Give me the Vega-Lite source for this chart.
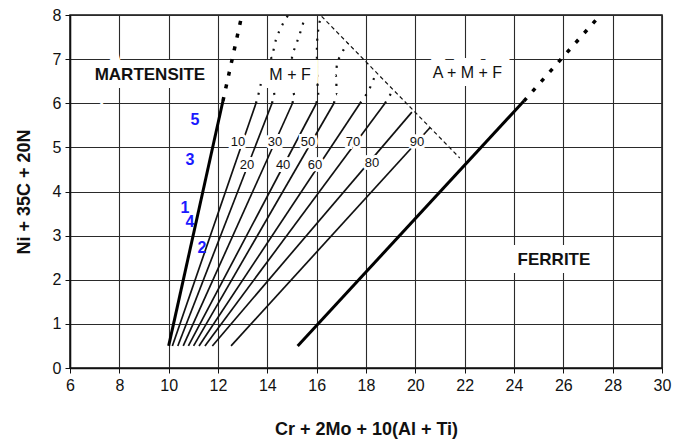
{
  "$schema": "https://vega.github.io/schema/vega-lite/v6.json",
  "width": 592,
  "height": 353,
  "autosize": {"type": "none"},
  "padding": {"left": 70, "top": 15, "right": 20, "bottom": 75},
  "background": "white",
  "config": {
    "view": {"stroke": "#111", "strokeWidth": 1.5},
    "axis": {
      "labelFont": "Liberation Sans",
      "labelFontSize": 16,
      "labelColor": "#111",
      "titleFont": "Liberation Sans",
      "titleFontSize": 18,
      "titleFontWeight": "bold",
      "titleColor": "#111",
      "domainColor": "#111",
      "domainWidth": 1.5,
      "tickColor": "#111",
      "tickSize": 5,
      "labelPadding": 4,
      "gridColor": "#2a2a2a",
      "gridWidth": 1.1,
      "gridOpacity": 1
    }
  },
  "datasets": {
    "thick": [
      {"id": "M", "o": 1, "x": 10.0, "y": 0.5},
      {"id": "M", "o": 2, "x": 12.2, "y": 6.05},
      {"id": "F", "o": 1, "x": 15.23, "y": 0.5},
      {"id": "F", "o": 2, "x": 24.4, "y": 6.05}
    ],
    "thickdot": [
      {"id": "M", "o": 1, "x": 12.2, "y": 6.05},
      {"id": "M", "o": 2, "x": 12.97, "y": 8.0},
      {"id": "F", "o": 1, "x": 24.4, "y": 6.05},
      {"id": "F", "o": 2, "x": 27.5, "y": 8.0}
    ],
    "iso": [
      {"id": "10", "o": 1, "x": 10.15, "y": 0.5}, {"id": "10", "o": 2, "x": 13.54, "y": 6.0},
      {"id": "20", "o": 1, "x": 10.37, "y": 0.5}, {"id": "20", "o": 2, "x": 14.19, "y": 6.0},
      {"id": "30", "o": 1, "x": 10.59, "y": 0.5}, {"id": "30", "o": 2, "x": 15.02, "y": 6.0},
      {"id": "40", "o": 1, "x": 10.8, "y": 0.5}, {"id": "40", "o": 2, "x": 15.99, "y": 6.0},
      {"id": "50", "o": 1, "x": 11.01, "y": 0.5}, {"id": "50", "o": 2, "x": 16.7, "y": 6.0},
      {"id": "60", "o": 1, "x": 11.23, "y": 0.5}, {"id": "60", "o": 2, "x": 17.76, "y": 6.0},
      {"id": "70", "o": 1, "x": 11.47, "y": 0.5}, {"id": "70", "o": 2, "x": 18.77, "y": 6.0},
      {"id": "80", "o": 1, "x": 11.77, "y": 0.5}, {"id": "80", "o": 2, "x": 19.86, "y": 5.8},
      {"id": "90", "o": 1, "x": 12.53, "y": 0.5}, {"id": "90", "o": 2, "x": 20.6, "y": 5.45}
    ],
    "dots": [
      {"id": "e10", "o": 1, "x": 13.54, "y": 6.0}, {"id": "e10", "o": 2, "x": 13.62, "y": 6.16}, {"id": "e10", "o": 3, "x": 13.78, "y": 6.55},
      {"id": "e20", "o": 1, "x": 14.19, "y": 6.0}, {"id": "e20", "o": 2, "x": 14.3, "y": 6.18}, {"id": "e20", "o": 3, "x": 14.2, "y": 6.7}, {"id": "e20", "o": 4, "x": 14.15, "y": 7.05}, {"id": "e20", "o": 5, "x": 14.35, "y": 7.44}, {"id": "e20", "o": 6, "x": 14.63, "y": 7.8}, {"id": "e20", "o": 7, "x": 14.85, "y": 8.0},
      {"id": "e30", "o": 1, "x": 15.02, "y": 6.0}, {"id": "e30", "o": 2, "x": 15.1, "y": 6.18}, {"id": "e30", "o": 3, "x": 15.0, "y": 6.7}, {"id": "e30", "o": 4, "x": 15.0, "y": 7.05}, {"id": "e30", "o": 5, "x": 15.12, "y": 7.26}, {"id": "e30", "o": 6, "x": 15.28, "y": 7.51}, {"id": "e30", "o": 7, "x": 15.53, "y": 7.96},
      {"id": "e40", "o": 1, "x": 15.99, "y": 6.0}, {"id": "e40", "o": 2, "x": 16.08, "y": 6.18}, {"id": "e40", "o": 3, "x": 16.01, "y": 6.8}, {"id": "e40", "o": 4, "x": 16.01, "y": 7.28}, {"id": "e40", "o": 5, "x": 16.05, "y": 7.6}, {"id": "e40", "o": 6, "x": 16.18, "y": 7.94},
      {"id": "e50", "o": 1, "x": 16.7, "y": 6.0}, {"id": "e50", "o": 2, "x": 16.82, "y": 6.2}, {"id": "e50", "o": 3, "x": 16.78, "y": 6.64}, {"id": "e50", "o": 4, "x": 16.82, "y": 6.87}, {"id": "e50", "o": 5, "x": 16.99, "y": 7.1}, {"id": "e50", "o": 6, "x": 17.27, "y": 7.37},
      {"id": "e60", "o": 1, "x": 17.76, "y": 6.0}, {"id": "e60", "o": 2, "x": 18.16, "y": 6.35}, {"id": "e60", "o": 3, "x": 18.41, "y": 6.69},
      {"id": "e70", "o": 1, "x": 18.77, "y": 6.0}, {"id": "e70", "o": 2, "x": 19.1, "y": 6.3}
    ],
    "dash": [
      {"id": "d", "o": 1, "x": 16.2, "y": 7.97},
      {"id": "d", "o": 2, "x": 21.8, "y": 4.76}
    ],
    "regionsBold": [
      {"x": 9.24, "y": 6.64, "label": "MARTENSITE"},
      {"x": 25.62, "y": 2.45, "label": "FERRITE"}
    ],
    "regionsNormal": [
      {"x": 14.92, "y": 6.64, "label": "M + F"},
      {"x": 22.11, "y": 6.69, "label": "A + M + F"}
    ],
    "isoLabels": [
      {"x": 12.81, "y": 5.12, "label": "10"},
      {"x": 14.31, "y": 5.12, "label": "30"},
      {"x": 15.65, "y": 5.12, "label": "50"},
      {"x": 17.47, "y": 5.12, "label": "70"},
      {"x": 20.07, "y": 5.12, "label": "90"},
      {"x": 13.18, "y": 4.6, "label": "20"},
      {"x": 14.64, "y": 4.6, "label": "40"},
      {"x": 15.93, "y": 4.6, "label": "60"},
      {"x": 18.24, "y": 4.65, "label": "80"}
    ],
    "nums": [
      {"x": 11.07, "y": 5.62, "label": "5"},
      {"x": 10.86, "y": 4.72, "label": "3"},
      {"x": 10.66, "y": 3.63, "label": "1"},
      {"x": 10.86, "y": 3.31, "label": "4"},
      {"x": 11.35, "y": 2.72, "label": "2"}
    ]
  },
  "encoding": {
    "x": {
      "field": "x",
      "type": "quantitative",
      "scale": {"domain": [6, 30], "nice": false, "zero": false},
      "axis": {
        "title": "Cr + 2Mo + 10(Al + Ti)",
        "values": [6, 8, 10, 12, 14, 16, 18, 20, 22, 24, 26, 28, 30],
        "grid": true,
        "labelFlush": false,
        "titlePadding": 27
      }
    },
    "y": {
      "field": "y",
      "type": "quantitative",
      "scale": {"domain": [0, 8], "nice": false, "zero": false},
      "axis": {
        "title": "Ni + 35C + 20N",
        "values": [0, 1, 2, 3, 4, 5, 6, 7, 8],
        "grid": true,
        "labelFlush": false,
        "titlePadding": 19
      }
    }
  },
  "layer": [
    {
      "data": {"name": "iso"},
      "mark": {"type": "line", "color": "#111", "strokeWidth": 1.7},
      "encoding": {"detail": {"field": "id"}, "order": {"field": "o", "type": "quantitative"}}
    },
    {
      "data": {"name": "thick"},
      "mark": {"type": "line", "color": "#000", "strokeWidth": 3},
      "encoding": {"detail": {"field": "id"}, "order": {"field": "o", "type": "quantitative"}}
    },
    {
      "data": {"name": "thickdot"},
      "mark": {"type": "line", "color": "#000", "strokeWidth": 3.5, "strokeDash": [4, 9]},
      "encoding": {"detail": {"field": "id"}, "order": {"field": "o", "type": "quantitative"}}
    },
    {
      "data": {"name": "dots"},
      "mark": {"type": "line", "color": "#111", "strokeWidth": 2.2, "strokeDash": [2, 7], "interpolate": "monotone"},
      "encoding": {"detail": {"field": "id"}, "order": {"field": "o", "type": "quantitative"}}
    },
    {
      "data": {"name": "dash"},
      "mark": {"type": "line", "color": "#111", "strokeWidth": 1.2, "strokeDash": [4, 3]},
      "encoding": {"detail": {"field": "id"}, "order": {"field": "o", "type": "quantitative"}}
    },
    {
      "data": {"name": "isoLabels"},
      "mark": {"type": "text", "font": "Liberation Sans", "fontSize": 13, "fill": "white", "stroke": "white", "strokeWidth": 6},
      "encoding": {"text": {"field": "label"}}
    },
    {
      "data": {"name": "isoLabels"},
      "mark": {"type": "text", "font": "Liberation Sans", "fontSize": 13, "color": "#111"},
      "encoding": {"text": {"field": "label"}}
    },
    {
      "data": {"name": "regionsBold"},
      "mark": {"type": "text", "font": "Liberation Sans", "fontSize": 17, "fontWeight": "bold", "fill": "white", "stroke": "white", "strokeWidth": 16},
      "encoding": {"text": {"field": "label"}}
    },
    {
      "data": {"name": "regionsBold"},
      "mark": {"type": "text", "font": "Liberation Sans", "fontSize": 17, "fontWeight": "bold", "color": "#111"},
      "encoding": {"text": {"field": "label"}}
    },
    {
      "data": {"name": "regionsNormal"},
      "mark": {"type": "text", "font": "Liberation Sans", "fontSize": 16, "fill": "white", "stroke": "white", "strokeWidth": 16},
      "encoding": {"text": {"field": "label"}}
    },
    {
      "data": {"name": "regionsNormal"},
      "mark": {"type": "text", "font": "Liberation Sans", "fontSize": 16, "color": "#111"},
      "encoding": {"text": {"field": "label"}}
    },
    {
      "data": {"name": "nums"},
      "mark": {"type": "text", "font": "Liberation Sans", "fontSize": 16, "fontWeight": "bold", "color": "#1a1aff"},
      "encoding": {"text": {"field": "label"}}
    }
  ]
}
